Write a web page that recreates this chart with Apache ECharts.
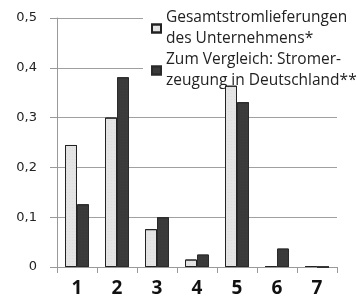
<!DOCTYPE html>
<html>
<head>
<meta charset="utf-8">
<script src="https://cdn.jsdelivr.net/npm/echarts@6/dist/echarts.min.js"></script>
<style>
  html, body { margin: 0; padding: 0; background: #fff; }
  #chart { width: 357px; height: 298px; }
</style>
</head>
<body>
<div id="chart"></div>
<script>
// Kategorien und Werte
const categories = ['1', '2', '3', '4', '5', '6', '7'];
const lieferungen = [0.245, 0.3, 0.076, 0.015, 0.364, 0.002, 0.002];
const vergleich = [0.126, 0.381, 0.1, 0.025, 0.331, 0.037, 0];
const yTicks = [0, 0.1, 0.2, 0.3, 0.4, 0.5];

const seriesNames = [
  'Gesamtstromlieferungen\ndes Unternehmens*',
  'Zum Vergleich: Stromer-\nzeugung in Deutschland**'
];

const chart = echarts.init(document.getElementById('chart'));

chart.setOption({
  animation: false,
  grid: { left: 57, right: 20, top: 18, bottom: 31 },
  legend: {
    z: 1,
    orient: 'vertical',
    left: 143,
    top: -5,
    padding: [2, 2, 2, 8],
    backgroundColor: '#fff',
    icon: 'rect',
    itemWidth: 9,
    itemHeight: 8,
    itemGap: -21,
    textStyle: {
      fontFamily: 'Open Sans',
      fontSize: 15.5,
      color: '#222',
      lineHeight: 21,
      padding: [21, 0, 0, 0]
    },
    data: seriesNames
  },
  xAxis: {
    type: 'category',
    data: categories,
    axisLine: { lineStyle: { color: '#999' } },
    axisTick: { show: true, length: 6, lineStyle: { color: '#999' } },
    axisLabel: {
      margin: 12,
      fontFamily: 'Open Sans',
      fontSize: 19,
      fontWeight: 'bold',
      color: '#111'
    }
  },
  yAxis: {
    type: 'value',
    min: yTicks[0],
    max: yTicks[yTicks.length - 1],
    interval: 0.1,
    axisLine: { show: true, lineStyle: { color: '#999' } },
    axisTick: { show: true, length: 7, lineStyle: { color: '#999' } },
    splitLine: { lineStyle: { color: '#a0a0a0' } },
    axisLabel: {
      margin: 20,
      fontFamily: 'DejaVu Sans',
      fontSize: 13,
      color: '#222',
      formatter: v => String(Math.round(v * 10) / 10).replace('.', ',')
    }
  },
  series: [
    {
      name: seriesNames[0],
      type: 'bar',
      data: lieferungen,
      barGap: '0%',
      barCategoryGap: '40%',
      itemStyle: {
        color: '#e4e4e4',
        borderColor: '#222',
        borderWidth: 1,
        decal: { symbol: 'rect', symbolSize: 0.5, color: '#c8c8c8', dashArrayX: [1, 2], dashArrayY: [1, 2] }
      }
    },
    {
      name: seriesNames[1],
      type: 'bar',
      data: vergleich,
      itemStyle: {
        color: '#3a3a3a',
        borderColor: '#2a2a2a',
        borderWidth: 1,
        decal: { symbol: 'rect', symbolSize: 0.5, color: '#4a4a4a', dashArrayX: [1, 2], dashArrayY: [1, 2] }
      }
    }
  ]
});
</script>
</body>
</html>
